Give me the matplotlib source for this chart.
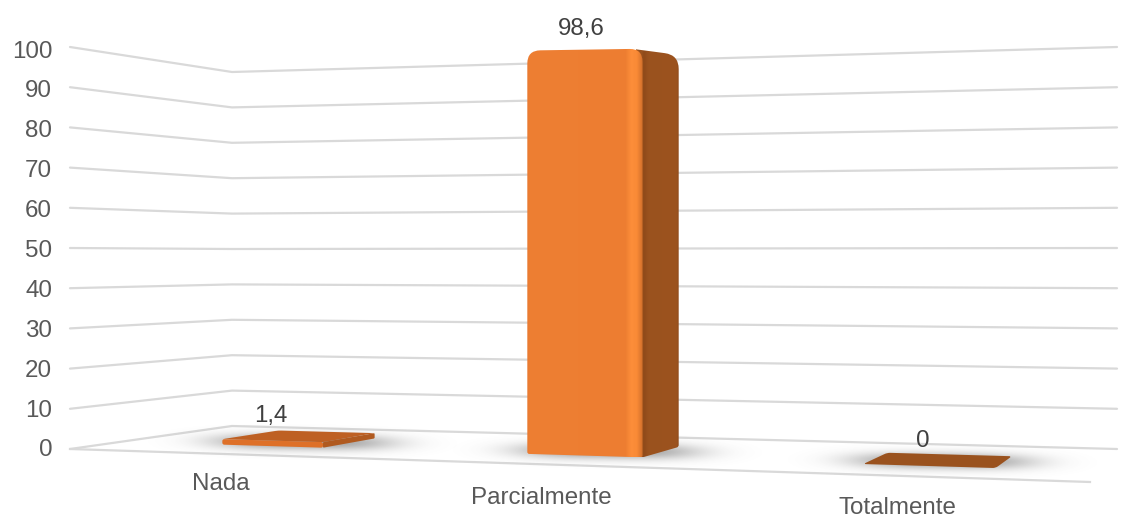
import numpy as np
import matplotlib
matplotlib.use("Agg")
import matplotlib.pyplot as plt
from matplotlib.path import Path
from matplotlib.patches import PathPatch
from matplotlib.colors import to_rgb

# --- Daten ---
categories = ["Nada", "Parcialmente", "Totalmente"]
values = [1.4, 98.6, 0]
tick_values = [0, 10, 20, 30, 40, 50, 60, 70, 80, 90, 100]

# --- Layout der Bodenflaeche (Pixel) ---
W, H = 1131, 518
front_left = (70, 449)
front_right = (1090, 482)
back_right = (1117, 449)
back_left = (232, 426)
# Pixel pro Werteinheit an den vier Ecken: vorne links, vorne rechts, hinten rechts, hinten links
unit_px = (4.02, 4.46, 4.02, 3.54)

bar_centers = [0.182, 0.524, 0.853]
bar_width = 0.118
bar_depth = (0.29, 0.66)
label_offset = [(-29, -20), (-23, -24), (-16, -19)]
category_xy = [(221, 484), (541, 498), (897, 508)]

grid_color = "#D9D9D9"
tick_color = "#595959"
value_color = "#404040"
side_color = "#9A521E"
top_color = "#BE6023"


# --- Projektion Boden (s, t) + Hoehe v auf Pixel ---
def solve_floor():
    x0, y0 = front_left
    x1, y1 = front_right
    x2, y2 = back_right
    x3, y3 = back_left
    m = np.array([[x1 - x2, x3 - x2], [y1 - y2, y3 - y2]], dtype=float)
    rhs = np.array([x0 - x1 + x2 - x3, y0 - y1 + y2 - y3], dtype=float)
    g, h = np.linalg.solve(m, rhs)
    return (x1 - x0 + g * x1, x3 - x0 + h * x3, x0,
            y1 - y0 + g * y1, y3 - y0 + h * y3, y0, g, h)


floor = solve_floor()


def project(s, t, v=0.0):
    a, b, c, d, e, f, g, h = floor
    w = g * s + h * t + 1
    px = (a * s + b * t + c) / w
    py = (d * s + e * t + f) / w
    k = ((1 - s) * (1 - t) * unit_px[0] + s * (1 - t) * unit_px[1]
         + s * t * unit_px[2] + (1 - s) * t * unit_px[3])
    return px, py - v * k


def rounded_path(points, radii):
    # geschlossener Pfad mit abgerundeten Ecken
    pts = [np.array(p, dtype=float) for p in points]
    n = len(pts)
    verts, codes = [], []
    for i in range(n):
        p = pts[i]
        prev = pts[i - 1]
        nxt = pts[(i + 1) % n]
        d1, d2 = prev - p, nxt - p
        l1, l2 = np.hypot(*d1), np.hypot(*d2)
        r = min(radii[i], l1 * 0.45, l2 * 0.45)
        start = p + d1 / max(l1, 1e-6) * r
        end = p + d2 / max(l2, 1e-6) * r
        verts.append(start)
        codes.append(Path.MOVETO if i == 0 else Path.LINETO)
        verts += [p, end]
        codes += [Path.CURVE3, Path.CURVE3]
    verts.append(verts[0])
    codes.append(Path.CLOSEPOLY)
    return Path(verts, codes)


def gradient(ax, path, stops, zorder):
    # horizontaler Farbverlauf, auf den Pfad zugeschnitten
    box = path.get_extents()
    fr = np.linspace(0, 1, 256)
    pos = [p for p, _ in stops]
    rgb = np.array([to_rgb(c) for _, c in stops])
    img = np.stack([np.interp(fr, pos, rgb[:, i]) for i in range(3)], axis=1)[None, :, :]
    im = ax.imshow(img, extent=(box.x0, box.x1, box.y1, box.y0), aspect="auto",
                   zorder=zorder, interpolation="bilinear")
    im.set_clip_path(PathPatch(path, transform=ax.transData))


def soft_shadow(ax, cx, cy, rx, ry, slope, alpha, zorder):
    x = np.linspace(cx - rx * 2.2, cx + rx * 2.2, 300)
    y = np.linspace(cy - ry * 2.6, cy + ry * 2.6, 80)
    xx, yy = np.meshgrid(x, y)
    dy = yy - cy - (xx - cx) * slope
    a = alpha * np.exp(-np.abs((xx - cx) / rx) ** 3 / 2 - (dy / ry) ** 2)
    img = np.zeros(a.shape + (4,))
    img[..., :3] = 0.38
    img[..., 3] = a
    ax.imshow(img, extent=(x[0], x[-1], y[-1], y[0]), aspect="auto",
              zorder=zorder, interpolation="bilinear")


# --- Plot ---
fig = plt.figure(figsize=(W / 100, H / 100), dpi=100)
ax = fig.add_axes([0, 0, 1, 1])
plt.rcParams["font.family"] = ["Liberation Sans", "DejaVu Sans"]

# Gitterlinien laufen ueber linke Wand und Rueckwand
for v in tick_values:
    xs, ys = zip(project(0, 0, v), project(0, 1, v), project(1, 1, v))
    ax.plot(xs, ys, color=grid_color, lw=1.6, zorder=1, solid_capstyle="round")
    ax.text(52, 450.5 - 3.99 * v, str(v), ha="right", va="center",
            fontsize=17.4, color=tick_color)
xs, ys = zip(project(0, 0), project(1, 0))
ax.plot(xs, ys, color=grid_color, lw=1.6, zorder=1)

for i, val in enumerate(values):
    s0 = bar_centers[i] - bar_width / 2
    s1 = bar_centers[i] + bar_width / 2
    t0, t1 = bar_depth

    fl_b, fr_b = project(s0, t0), project(s1, t0)
    br_b, bl_b = project(s1, t1), project(s0, t1)
    fl_t, fr_t = project(s0, t0, val), project(s1, t0, val)
    br_t, bl_t = project(s1, t1, val), project(s0, t1, val)

    cx, cy = project(bar_centers[i], (t0 + t1) / 2)
    soft_shadow(ax, cx + 3, cy + 1, 72, 8, 0.01, 0.6, 2)

    # Deckflaeche nur sichtbar, solange die Hinterkante ueber der Vorderkante liegt
    if bl_t[1] < fl_t[1]:
        top = rounded_path([fl_t, fr_t, br_t, bl_t], [3, 3, 3, 3])
        ax.add_patch(PathPatch(top, fc=side_color if val == 0 else top_color, ec="none", zorder=3))

    if val > 10:
        # Seitenflaeche laeuft hinter der gerundeten Frontecke weiter
        peak = (fr_t[0] - 7, fr_t[1] + 0.5)
        foot = (fr_b[0] - 7, fr_b[1])
        side = rounded_path([fr_b, br_b, br_t, peak, foot], [1, 2, 14, 0, 0])
        gradient(ax, side, [(0, "#9A521E"), (0.12, "#9A521E"), (0.18, "#8F4A1A"),
                            (0.28, "#9A521E"), (0.92, "#9C531F"), (1, "#8A4819")], 4)

        front = rounded_path([fl_b, fr_b, fr_t, fl_t], [2, 2, 13, 13])
        gradient(ax, front, [(0, "#E97A30"), (0.03, "#EE7F33"), (0.85, "#ED7D31"),
                             (0.90, "#FD8E3A"), (0.95, "#F98A36"), (1, "#D06F2B")], 5)
    elif val > 0:
        side = rounded_path([fr_b, br_b, br_t, fr_t], [1, 1, 1, 1])
        ax.add_patch(PathPatch(side, fc="#B05A20", ec="none", zorder=4))
        front = rounded_path([fl_b, fr_b, fr_t, fl_t], [2, 2, 2, 2])
        ax.add_patch(PathPatch(front, fc="#DE7028", ec="none", zorder=5))

    dx, dy = label_offset[i]
    ax.text(cx + dx, project(bar_centers[i], (t0 + t1) / 2, val)[1] + dy,
            f"{val:g}".replace(".", ","), ha="center", va="center",
            fontsize=17.4, color=value_color, zorder=6)

    ax.text(category_xy[i][0], category_xy[i][1], categories[i], ha="center", va="center",
            fontsize=17.4, color=tick_color)

ax.set_xlim(0, W)
ax.set_ylim(H, 0)
ax.axis("off")
fig.savefig("out.png", dpi=100, facecolor="white")
